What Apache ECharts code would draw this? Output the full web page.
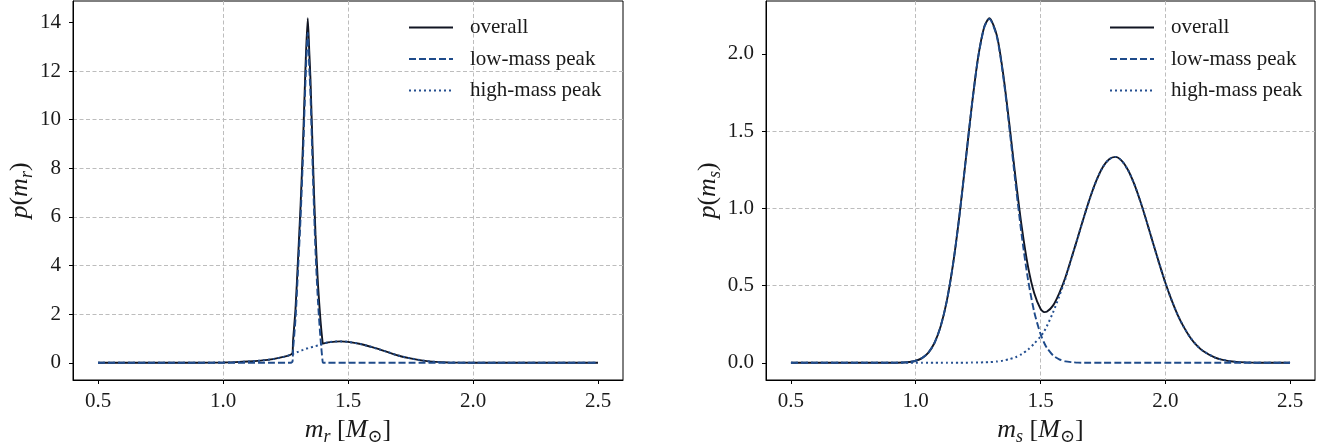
<!DOCTYPE html>
<html>
<head>
<meta charset="utf-8">
<script src="https://cdn.jsdelivr.net/npm/echarts@6/dist/echarts.min.js"></script>
<style>
html,body{margin:0;padding:0;background:#fff;}
#chart{width:1338px;height:446px;}
</style>
</head>
<body>
<div id="chart"></div>
<script>
// ---- data ----
const seriesNames = ['overall', 'low-mass peak', 'high-mass peak'];

const xLeft = [0.5,0.6,0.7,0.8,0.9, 1.0,1.05,1.1,1.15,1.2, 1.25,1.27,1.278,1.28,1.29, 1.30,1.31,1.32,1.33,1.339, 1.345,1.35,1.36,1.37,1.38, 1.39,1.398,1.40,1.42,1.45, 1.47,1.5,1.55,1.6,1.65, 1.7,1.75,1.8,1.85,1.9, 2.0,2.1,2.2,2.3,2.4, 2.5];
const leftOverall = [0,0,0,0,0.002, 0.01,0.025,0.05,0.09,0.15, 0.26,0.33,0.41,0.87,2.21, 4.25,6.39,9.03,12.17,14.17, 12.82,11.63,8.26,5.29,3.21, 1.74,0.87,0.79,0.84,0.87, 0.88,0.86,0.77,0.63,0.47, 0.30,0.18,0.09,0.035,0.012, 0.002,0,0,0,0, 0];
const leftLow = [0,0,0,0,0, 0,0,0,0,0, 0,0,0.05,0.5,1.8, 3.8,5.9,8.5,11.6,13.57, 12.2,11.0,7.6,4.6,2.5, 1.0,0.1,0,0,0, 0,0,0,0,0, 0,0,0,0,0, 0,0,0,0,0, 0];
const leftHigh = [0,0,0,0,0.002, 0.01,0.025,0.05,0.09,0.15, 0.26,0.33,0.36,0.37,0.41, 0.45,0.49,0.53,0.57,0.60, 0.62,0.63,0.66,0.69,0.71, 0.74,0.77,0.79,0.84,0.87, 0.88,0.86,0.77,0.63,0.47, 0.30,0.18,0.09,0.035,0.012, 0.002,0,0,0,0, 0];

const xRight = [0.5,0.6,0.7,0.8,0.9, 0.95,0.975,1.0,1.025,1.05, 1.075,1.1,1.125,1.15,1.175, 1.2,1.225,1.25,1.275,1.295, 1.325,1.35,1.375,1.4,1.425, 1.45,1.475,1.5,1.515,1.525, 1.55,1.575,1.6,1.625,1.65, 1.675,1.7,1.725,1.75,1.775, 1.8,1.825,1.85,1.875,1.9, 1.925,1.95,1.975,2.0,2.025, 2.05,2.075,2.1,2.125,2.15, 2.2,2.25,2.3,2.35,2.4, 2.5];
const rightOverall = [0,0,0,0,0.0002, 0.002,0.005,0.013,0.030,0.064, 0.128,0.236,0.404,0.643,0.951, 1.307,1.668,1.978,2.178,2.231, 2.12,1.876,1.549,1.197,0.878, 0.623,0.45,0.35,0.328,0.33, 0.37,0.45,0.554,0.683,0.815, 0.949,1.075,1.184,1.268,1.318, 1.333,1.309,1.25,1.160,1.046, 0.917,0.781,0.647,0.52,0.407, 0.309,0.229,0.164,0.114,0.078, 0.033,0.012,0.004,0.001,0, 0];
const rightLow = [0,0,0,0,0.0002, 0.002,0.005,0.013,0.030,0.064, 0.128,0.236,0.404,0.643,0.951, 1.307,1.667,1.976,2.175,2.227, 2.112,1.862,1.526,1.161,0.821, 0.538,0.328,0.186,0.128,0.098, 0.048,0.022,0.009,0.004,0.001, 0,0,0,0,0, 0,0,0,0,0, 0,0,0,0,0, 0,0,0,0,0, 0,0,0,0,0, 0];
const rightHigh = [0,0,0,0,0, 0,0,0,0,0, 0,0,0,0,0.0003, 0.0004,0.001,0.0015,0.003,0.004, 0.008,0.014,0.023,0.036,0.057, 0.085,0.125,0.17,0.205,0.235, 0.325,0.43,0.545,0.679,0.814, 0.949,1.075,1.184,1.268,1.318, 1.333,1.309,1.25,1.160,1.046, 0.917,0.781,0.647,0.52,0.407, 0.309,0.229,0.164,0.114,0.078, 0.033,0.012,0.004,0.001,0, 0];

const xTicks = [0.5, 1.0, 1.5, 2.0, 2.5];
const yTicksLeft = [0, 2, 4, 6, 8, 10, 12, 14];
const yTicksRight = [0.0, 0.5, 1.0, 1.5, 2.0];

// ---- styling ----
const FONT = '"Liberation Serif", "DejaVu Serif", serif';
const TXT = '#1a1a1a';
const COLORS = ['#111522', '#1f4b8a', '#244f90'];
const GRIDLINE = {show: true, lineStyle: {color: '#bdbdbd', width: 1, type: [4, 2.5]}};

function pairs(xs, ys) { return xs.map((x, i) => [x, ys[i]]); }

function mathName(v, s, bracket) {
  return bracket
    ? '{i|' + v + '}{sub|' + s + '}{n| [}{i|M}{sub|⊙}{n|]}'
    : '{i|' + v + '}{n|(}{i|m}{sub|' + s + '}{n|)}';
}
const nameRich = {
  i: {fontFamily: FONT, fontStyle: 'italic', fontSize: 26, color: TXT, lineHeight: 32, verticalAlign: 'middle'},
  n: {fontFamily: FONT, fontSize: 26, color: TXT, lineHeight: 32, verticalAlign: 'middle'},
  sub: {fontFamily: FONT, fontStyle: 'italic', fontSize: 18, color: TXT, lineHeight: 15, verticalAlign: 'bottom'}
};

function xAxisDef(gi, sub) {
  return {
    type: 'value', gridIndex: gi, min: 0.4, max: 2.6, splitNumber: 4,
    name: mathName('m', sub, true), nameLocation: 'middle', nameGap: 28,
    nameTextStyle: {rich: nameRich},
    axisLine: {show: true, onZero: false, lineStyle: {color: '#000', width: 1}},
    axisTick: {show: true, inside: false, length: 4, lineStyle: {color: '#000'}, customValues: xTicks},
    axisLabel: {customValues: xTicks, margin: 11, fontFamily: FONT, fontSize: 21, color: TXT,
      formatter: v => v.toFixed(1)},
    splitLine: Object.assign({showMinLine: false, showMaxLine: false}, GRIDLINE)
  };
}
function yAxisDef(gi, sub, min, max, split, ticks, dec, gap) {
  return {
    type: 'value', gridIndex: gi, min: min, max: max, splitNumber: split,
    name: mathName('p', sub, false), nameLocation: 'middle', nameGap: gap, nameRotate: 90,
    nameTextStyle: {rich: nameRich},
    axisLine: {show: true, onZero: false, lineStyle: {color: '#000', width: 1}},
    axisTick: {show: true, inside: false, length: 4, lineStyle: {color: '#000'}, customValues: ticks},
    axisLabel: {customValues: ticks, margin: 12, fontFamily: FONT, fontSize: 21, color: TXT,
      formatter: v => v.toFixed(dec)},
    splitLine: Object.assign({showMinLine: false, showMaxLine: false}, GRIDLINE)
  };
}

function lineSeries(name, gi, xs, ys, idx, z) {
  const types = ['solid', [7, 3], [2, 3]];
  return {
    name: name, type: 'line', xAxisIndex: gi, yAxisIndex: gi,
    data: pairs(xs, ys), showSymbol: false, symbol: 'none', smooth: 0.25,
    clip: true, z: z, animation: false,
    lineStyle: {color: COLORS[idx], width: idx === 2 ? 2 : 1.9, type: types[idx], cap: 'butt'},
    itemStyle: {color: COLORS[idx]}
  };
}

function legendDef(left, names) {
  return {
    orient: 'vertical', left: left, top: 12, itemWidth: 44, itemHeight: 14, itemGap: 10.5,
    data: names.map((n) => ({name: n, itemStyle: {opacity: 0}})),
    itemStyle: {opacity: 0},
    formatter: n => n.trim(),
    textStyle: {fontFamily: FONT, fontSize: 21, color: TXT, lineHeight: 20, padding: [0, 0, 0, 12]},
    selectedMode: false
  };
}

const chart = echarts.init(document.getElementById('chart'), null, {renderer: 'canvas'});

const option = {
  backgroundColor: '#fff',
  animation: false,
  textStyle: {fontFamily: FONT},
  grid: [
    {left: 73, right: 715, top: 1, bottom: 66, show: true, borderColor: '#000', borderWidth: 1,
     backgroundColor: 'transparent', containLabel: false, outerBoundsMode: 'none'},
    {left: 766, right: 23, top: 1, bottom: 66, show: true, borderColor: '#000', borderWidth: 1,
     backgroundColor: 'transparent', containLabel: false, outerBoundsMode: 'none'}
  ],
  xAxis: [xAxisDef(0, 'r'), xAxisDef(1, 's')],
  yAxis: [
    yAxisDef(0, 'r', -0.7085, 14.8785, 8, yTicksLeft, 0, 36),
    yAxisDef(1, 's', -0.1116, 2.3427, 5, yTicksRight, 1, 39)
  ],
  legend: [
    legendDef(403, seriesNames),
    legendDef(1104, seriesNames.map(n => n + ' '))
  ],
  series: [
    lineSeries(seriesNames[0], 0, xLeft, leftOverall, 0, 2),
    lineSeries(seriesNames[1], 0, xLeft, leftLow, 1, 3),
    lineSeries(seriesNames[2], 0, xLeft, leftHigh, 2, 4),
    lineSeries(seriesNames[0] + ' ', 1, xRight, rightOverall, 0, 2),
    lineSeries(seriesNames[1] + ' ', 1, xRight, rightLow, 1, 3),
    lineSeries(seriesNames[2] + ' ', 1, xRight, rightHigh, 2, 4)
  ]
};
chart.setOption(option);
</script>
</body>
</html>
